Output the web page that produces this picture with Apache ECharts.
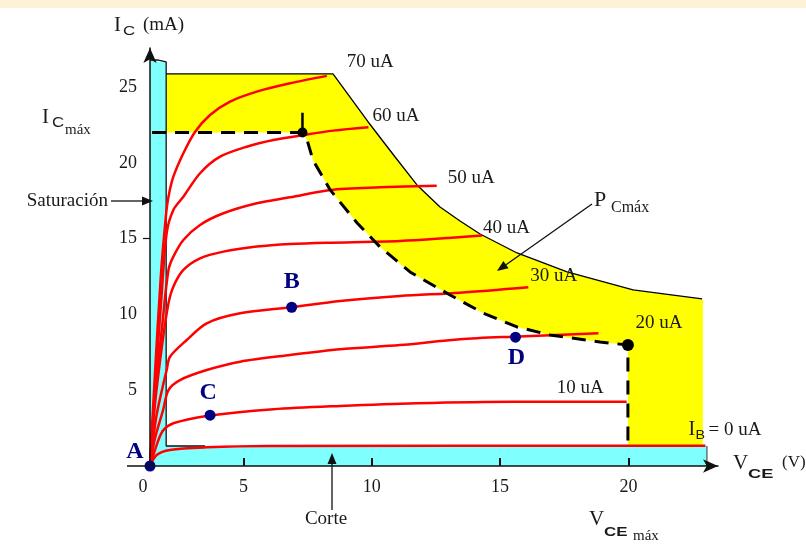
<!DOCTYPE html>
<html><head><meta charset="utf-8">
<script src="https://cdn.jsdelivr.net/npm/echarts@6/dist/echarts.min.js"></script>
<style>html,body{margin:0;padding:0;background:#fff}#c{width:806px;height:546px}</style>
</head><body><div id="c"></div>
<script>
// ---------- data: V_CE (V), I_C (mA) ----------
const ib0  = [[1.36,0],[1.62,0.73],[2.14,1.06],[3.57,1.23],[5.9,1.32],[23.0,1.34]];
const ib10 = [[1.36,0],[1.69,1.72],[1.88,2.37],[2.27,2.82],[3.57,3.30],[6.17,3.74],[8.77,3.96],[11.75,4.14],[15.50,4.24],[19.93,4.24]];
const ib20 = [[1.36,0],[1.55,1.8],[1.87,3.69],[2.08,5.01],[2.53,5.67],[3.57,6.33],[4.87,6.88],[6.82,7.32],[8.77,7.70],[11.10,7.98],[13.44,8.36],[15.52,8.53],[18.83,8.75]];
const ib30 = [[1.36,0],[1.6,3.2],[1.85,5.2],[2.01,6.33],[2.14,7.21],[2.79,8.31],[3.57,9.41],[4.87,10.07],[6.88,10.47],[8.77,10.88],[11.10,11.21],[13.44,11.43],[16.10,11.79]];
const ib40 = [[1.36,0],[1.55,4],[1.85,8.2],[2.08,10.73],[2.27,11.83],[2.66,12.93],[3.31,13.70],[4.22,14.14],[5.52,14.47],[6.82,14.64],[8.25,14.73],[11.10,14.84],[14.30,15.20]];
const ib50 = [[1.36,0],[1.55,4.5],[1.85,9.5],[2.08,12.93],[2.27,13.81],[2.66,14.91],[3.31,15.90],[4.22,16.67],[5.52,17.33],[6.82,17.72],[8.38,18.21],[10.32,18.38],[12.53,18.49]];
const ib60 = [[1.36,0],[1.55,5],[1.8,11],[2.01,15.37],[2.27,16.89],[2.66,17.76],[3.31,19.31],[4.09,20.40],[5.13,21.06],[6.17,21.50],[7.34,21.83],[8.50,22.12],[9.87,22.34]];
const ib70 = [[1.36,0],[1.55,6],[1.78,12.5],[1.98,16.5],[2.08,17.76],[2.27,19.08],[2.66,20.63],[3.12,22.05],[3.70,23.15],[4.48,24.03],[5.52,24.69],[6.82,25.24],[8.25,25.73]];
const curveNames = ['0 uA','10 uA','20 uA','30 uA','40 uA','50 uA','60 uA','70 uA'];

// safe operating area boundaries
const soaTop   = [[1.99,25.86],[8.49,25.86],[9.86,22.69],[10.91,20.38],[11.76,18.54],[12.66,17.08],[13.44,16.16],[14.22,15.30],[15.66,14.05],[17.61,12.80],[20.18,11.61],[22.87,11.02]];
const soaRight = [[22.9,11.02],[22.9,1.32]];
const pcmaxDash = [[1.44,22.0],[7.30,22.0],[7.48,21.5],[7.71,20.18],[8.38,18.21],[9.43,16.03],[10.32,14.45],[11.49,12.80],[13.05,11.28],[14.34,10.09],[15.66,9.17],[16.95,8.64],[18.89,8.18],[19.98,7.98],[19.98,1.32]];
const icmaxTick = [[7.30,22.0],[7.30,23.3]];
const cornerDots = [[7.30,22.0],[19.98,7.98]];

// saturation / cut-off regions
const satRegion = [[1.36,0],[1.36,26.78],[1.64,26.78],[1.64,26.65],[1.99,26.65],[1.99,0]];
const satEdge   = [[1.36,26.78],[1.64,26.78],[1.64,26.65],[1.99,26.65],[1.99,1.32],[3.51,1.32]];
const cutRegion = [[1.36,0],[1.36,1.32],[23.06,1.32],[23.06,0]];
const cutEdge   = [[23.06,0],[23.06,1.32]];

// operating points
const pointNames  = ['A','B','C','D'];
const pointValues = [[1.36,0],[6.88,10.47],[3.70,3.35],[15.60,8.50]];

// axes
const xOrigin = 1.36;
const xTickValues = [5,10,15,20];
const yTickValues = [5,10,15,20,25];
const yMarkedTick = [15];

// ---------- chart ----------
const SERIF = 'Liberation Serif', SANS = 'Liberation Sans';
const NAVY = '#000080';
const chart = echarts.init(document.getElementById('c'));

function polySeries(points, fill, z){
  return {type:'custom', coordinateSystem:'cartesian2d', silent:true, z:z, data:[[points[0][0],points[0][1]]],
    renderItem:(params, api)=>({type:'polygon', shape:{points:points.map(p=>api.coord(p))}, style:{fill:fill}})};
}
function lineSeries(d, color, width, type, z){
  return {type:'line', data:d, symbol:'none', silent:true, z:z,
    lineStyle:{color:color, width:width, type:type||'solid'}};
}

const soaPolygon = soaTop.concat(soaRight, pcmaxDash.slice().reverse());
const pointLabelOffsets = {A:[-15,-14], B:[0,-25], C:[-2,-22], D:[1,21]};

const series = [
  polySeries(soaPolygon, '#ffff00', 1),
  polySeries(satRegion, '#80ffff', 2),
  polySeries(cutRegion, '#80ffff', 2),
  lineSeries(satEdge, '#111', 1.3, 'solid', 3),
  lineSeries(cutEdge, '#333', 1, 'solid', 3),
  lineSeries(soaTop, '#000', 1.3, 'solid', 4),
];
[ib0,ib10,ib20,ib30,ib40,ib50,ib60,ib70].forEach((d,i)=>{
  const s = lineSeries(d, '#ff0000', 2.5, 'solid', 5);
  s.smooth = 0.3; s.name = curveNames[i];
  series.push(s);
});
series.push(lineSeries(pcmaxDash, '#000', 3, [14,9], 6));
series.push(lineSeries(icmaxTick, '#000', 2.5, 'solid', 6));
series.push({type:'scatter', data:cornerDots, symbol:'circle', symbolSize:(v,p)=>p.dataIndex===0?10:12,
  itemStyle:{color:'#000', opacity:1}, z:7, silent:true});
series.push({type:'scatter', z:8, silent:true, symbolSize:11, itemStyle:{color:NAVY, opacity:1},
  data:pointValues.map((v,i)=>({value:v, name:pointNames[i],
    label:{show:true, formatter:pointNames[i], position:'inside', offset:pointLabelOffsets[pointNames[i]],
      fontFamily:SERIF, fontWeight:'bold', fontSize:24, color:NAVY, opacity:1}}))});

const option = {
  animation:false,
  backgroundColor:'#ffffff',
  grid:{left:150, right:88, top:48, bottom:80, containLabel:false, outerBoundsMode:'none'},
  xAxis:{type:'value', min:xOrigin, max:23.49, z:10,
    axisLine:{show:true, lineStyle:{color:'#111', width:1.5}, symbol:['none','arrow'], symbolSize:[10,15]},
    axisTick:{show:true, inside:true, length:8, customValues:xTickValues, lineStyle:{color:'#111', width:2}},
    axisLabel:{show:true, customValues:[xOrigin].concat(xTickValues),
      formatter:v=>v<2?'{z|0}':String(v), rich:{z:{fontFamily:SERIF, fontSize:18, color:'#1a1a1a', padding:[0,14,0,0]}},
      margin:12, fontFamily:SERIF, fontSize:18, color:'#1a1a1a'},
    splitLine:{show:false}},
  yAxis:{type:'value', min:0, max:27.57, z:10,
    axisLine:{show:true, lineStyle:{color:'#111', width:1.5}, symbol:['none','arrow'], symbolSize:[10,15]},
    axisTick:{show:true, inside:false, length:7, customValues:yMarkedTick, lineStyle:{color:'#111', width:1.2}},
    axisLabel:{show:true, customValues:yTickValues, margin:13, fontFamily:SERIF, fontSize:18, color:'#1a1a1a'},
    splitLine:{show:false}},
  series:series
};
chart.setOption(option);

// ---------- annotations ----------
const px = p => chart.convertToPixel({gridIndex:0}, p);
const g = [{type:'rect', shape:{x:0,y:0,width:806,height:8}, style:{fill:'#fdf2d6'}, z:0}];
function txt(x, y, s, size, fam, opt){
  opt = opt || {};
  g.push({type:'text', x:x, y:y, scaleX:opt.sx||1, z:100,
    style:{text:s, fill:opt.color||'#1a1a1a', fontSize:size, fontFamily:fam, fontWeight:opt.bold?'bold':'normal',
      align:opt.align||'left', verticalAlign:'middle', textAlign:opt.align||'left', textVerticalAlign:'middle'}});
}
function arrow(x1,y1,x2,y2){
  const dx=x2-x1, dy=y2-y1, L=Math.hypot(dx,dy), ux=dx/L, uy=dy/L, hl=11, hw=4.5;
  const bx=x2-ux*hl, by=y2-uy*hl;
  g.push({type:'line', z:100, shape:{x1:x1,y1:y1,x2:bx,y2:by}, style:{stroke:'#111', lineWidth:1.3}});
  g.push({type:'polygon', z:100, shape:{points:[[x2,y2],[bx-uy*hw,by+ux*hw],[bx+uy*hw,by-ux*hw]]}, style:{fill:'#111'}});
}

// curve labels relative to curve ends
const curveLabelOffsets = [null,[-70,-14],[37,-10],[2,-11],[1,-8],[11,-8],[4,-11],[20,-14]];
[ib0,ib10,ib20,ib30,ib40,ib50,ib60,ib70].forEach((d,i)=>{
  const e = px(d[d.length-1]);
  if(i===0){
    txt(e[0]-17, e[1]-16, 'I', 20, SERIF);
    txt(e[0]-10, e[1]-10, 'B', 13, SANS, {sx:1.1});
    txt(e[0]+3,  e[1]-16, '= 0 uA', 19, SERIF);
  } else {
    const o = curveLabelOffsets[i];
    txt(e[0]+o[0], e[1]+o[1], curveNames[i], 19, SERIF);
  }
});

// axis titles
txt(114, 25, 'I', 21, SERIF); txt(123, 31, 'C', 13, SANS, {sx:1.3}); txt(143, 25, '(mA)', 19, SERIF);
txt(733, 463, 'V', 21, SERIF); txt(748, 474, 'CE', 13, SANS, {sx:1.4, bold:true}); txt(782, 463, '(V)', 17, SERIF);
// I_C max
txt(42, 117, 'I', 21, SERIF); txt(52, 123, 'C', 14, SANS, {sx:1.2}); txt(65, 130, 'máx', 15, SERIF);
// V_CE max
txt(589, 519, 'V', 21, SERIF); txt(604, 532, 'CE', 13, SANS, {sx:1.3, bold:true}); txt(633, 536, 'máx', 15, SERIF);
// Saturación
txt(108, 201, 'Saturación', 19, SERIF, {align:'right'});
arrow(111, 201, 153, 201);
// Corte
txt(326, 519, 'Corte', 19, SERIF, {align:'center'});
arrow(332, 510, 332, 453);
// P_Cmax
txt(594, 200, 'P', 22, SERIF); txt(611, 208, 'Cmáx', 16, SERIF);
arrow(592, 204, 497, 271);
// stub of the x axis left of the origin, and dark left edge of the saturation band
const o0 = px([xOrigin,0]);
g.push({type:'line', z:100, shape:{x1:o0[0]-23,y1:o0[1],x2:o0[0],y2:o0[1]}, style:{stroke:'#111', lineWidth:1.5}});

chart.setOption({graphic:g});
</script></body></html>
